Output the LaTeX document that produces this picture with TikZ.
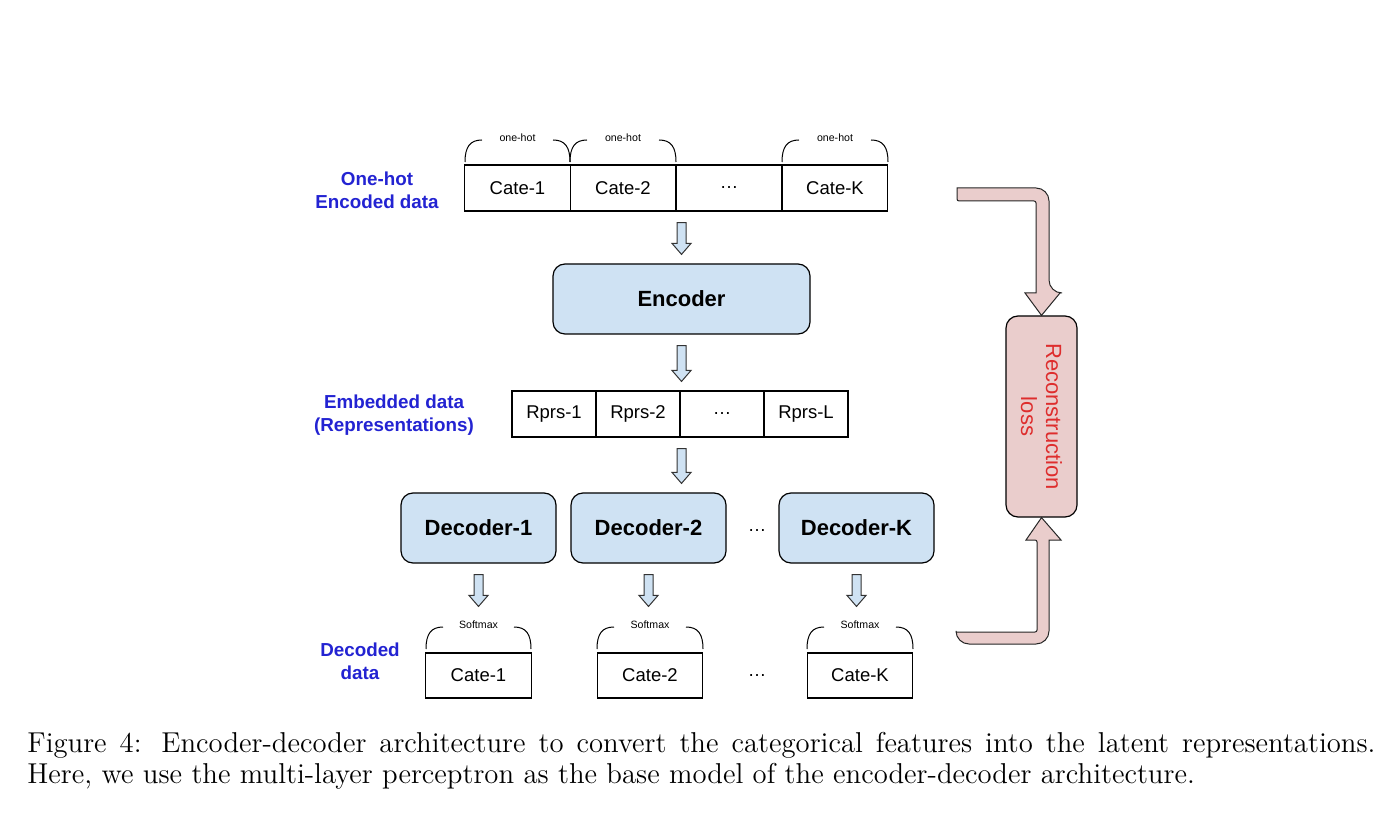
\documentclass[tikz,border=0pt]{standalone}
\usepackage{fontspec}
\newfontfamily\arial{Liberation Sans}
\usetikzlibrary{calc}
\definecolor{lblue}{RGB}{207,226,243}
\definecolor{lpink}{RGB}{234,205,204}
\definecolor{tblue}{RGB}{35,35,210}
\definecolor{tred}{RGB}{222,45,45}
% #1 node giving x, #2 source, #3 target, #4 gap above target
\newcommand\hdown[4]{%
  \draw[harrow] let \p1=(#1.center), \p2=(#2.south), \p3=(#3.north) in
    (\x1-2.25pt,\y2-5.5pt) -- (\x1+2.25pt,\y2-5.5pt) -- (\x1+2.25pt,\y3+#4+5.5pt)
    -- (\x1+4.75pt,\y3+#4+5.5pt) -- (\x1,\y3+#4) -- (\x1-4.75pt,\y3+#4+5.5pt)
    -- (\x1-2.25pt,\y3+#4+5.5pt) -- cycle;}
\newcommand\capbrace[5]{%
  \draw[bracel] (#1,#3) .. controls (#1,#4+7) and (#1+5,#4) .. (#1+17,#4);
  \draw[bracel] (#2-17,#4) .. controls (#2-5,#4) and (#2,#4+7) .. (#2,#3);
  \node[tinytxt] at ({(#1+#2)/2},#4-2) {#5};}
\begin{document}
\begin{tikzpicture}[x=0.5pt,y=-0.5pt,
  cell/.style={draw=black, line width=0.55pt, minimum width=52.9pt, minimum height=23pt,
    inner sep=0pt, font=\arial\fontsize{9.25}{11}\selectfont},
  rcell/.style={cell, minimum width=42pt},
  bcell/.style={cell, minimum width=52.75pt, minimum height=22.5pt},
  blk/.style={draw=black, line width=0.6pt, fill=lblue, rounded corners=6pt, inner sep=0pt,
    minimum height=35pt, font=\arial\bfseries\fontsize{11}{13}\selectfont},
  dots/.style={inner sep=0pt, font=\arial\fontsize{9.25}{11}\selectfont},
  side/.style={inner sep=0pt, align=center, text=tblue, font=\arial\bfseries\fontsize{9.4}{11.5}\selectfont},
  tinytxt/.style={inner sep=0pt, font=\arial\fontsize{5.3}{6.5}\selectfont},
  bracel/.style={draw=black, line width=0.5pt},
  harrow/.style={draw=black!80, line width=0.5pt, fill=lblue},
  parrow/.style={draw=black!85, line width=0.5pt, fill=lpink},
  captxt/.style={anchor=base west, inner sep=0pt, font=\fontsize{14.36}{16}\selectfont}]
\useasboundingbox (0,0) rectangle (1400,822);
\fill[white] (0,0) rectangle (1400,822);

% top row
\node[cell] (c1) at (517.5,188) {Cate-1};
\node[cell] (c2) at (623,188) {Cate-2};
\node[cell] (c3) at (729,188) {\dots};
\node[cell] (c4) at (835,188) {Cate-K};
\capbrace{465}{570}{162}{140}{one-hot}
\capbrace{570}{676}{162}{140}{one-hot}
\capbrace{782}{888}{162}{140}{one-hot}
\node[side] (lab1) at (377,190) {One-hot\\Encoded data};

% encoder
\node[blk, minimum width=128.5pt] (enc) at (681.5,299) {Encoder};

% embedded row
\node[rcell] (r1) at (554,414) {Rprs-1};
\node[rcell] (r2) at (638,414) {Rprs-2};
\node[rcell] (r3) at (722,414) {\dots};
\node[rcell] (r4) at (806,414) {Rprs-L};
\node[side] (lab2) at (394,415) {Embedded data\\(Representations)};

% decoders
\node[blk, minimum width=77.5pt] (d1) at (478.5,528) {Decoder-1};
\node[blk, minimum width=77.5pt] (d2) at (648.5,528) {Decoder-2};
\node[dots] (dd) at (757,531) {\dots};
\node[blk, minimum width=77.5pt] (d3) at (856.5,528) {Decoder-K};

% decoded
\node[bcell] (b1) at (478.5,675.5) {Cate-1};
\node[bcell] (b2) at (650,675.5) {Cate-2};
\node[dots] (bd) at (757,676) {\dots};
\node[bcell] (b3) at (860,675.5) {Cate-K};
\capbrace{426}{531}{649}{627}{Softmax}
\capbrace{597}{703}{649}{627}{Softmax}
\capbrace{807}{913}{649}{627}{Softmax}
\node[side] (lab3) at (360,661) {Decoded\\data};

% hollow arrows
\hdown{enc}{c3}{enc}{4.5pt}
\hdown{enc}{enc}{r1}{4.5pt}
\hdown{enc}{r3}{d1}{4.5pt}
\hdown{d1}{d1}{b1}{23pt}
\hdown{d2}{d2}{b2}{23pt}
\hdown{d3}{d3}{b3}{23pt}

% reconstruction loss
\node[draw=black, line width=0.6pt, fill=lpink, rounded corners=6pt, minimum width=35.5pt,
  minimum height=100.5pt, inner sep=0pt] (rl) at (1041.5,416.5) {};
\node[rotate=-90, align=center, text=tred, inner sep=0pt,
  font=\arial\fontsize{11}{12.5}\selectfont] (rlt) at (rl.center) {Reconstruction\\loss};

\coordinate (ts) at (957,188);
\coordinate (bs) at (956,632);
\draw[parrow] (ts) [rounded corners=6.5pt] -- (1049,188) -- (1049,293) [sharp corners]
  -- (1060,293) -- (rl.north) -- (1025,293) -- (1036,293)
  [rounded corners=1pt] -- (1036,201) -- (957,201) [sharp corners] -- cycle;
\draw[parrow] (bs) [rounded corners=1pt] -- (1037,632) -- (1037,540) [sharp corners]
  -- (1026,540) -- (rl.south) -- (1061,540) -- (1049,540)
  [rounded corners=6.5pt] -- (1049,644) -- (956,644) [sharp corners] -- cycle;

% caption
\node[captxt] (cap1) at (27,752) {\makebox[674pt][s]{Figure 4: Encoder-decoder architecture to convert the categorical features into the latent representations.}};
\node[captxt] (cap2) at (27,783) {Here, we use the multi-layer perceptron as the base model of the encoder-decoder architecture.};
\end{tikzpicture}
\end{document}
